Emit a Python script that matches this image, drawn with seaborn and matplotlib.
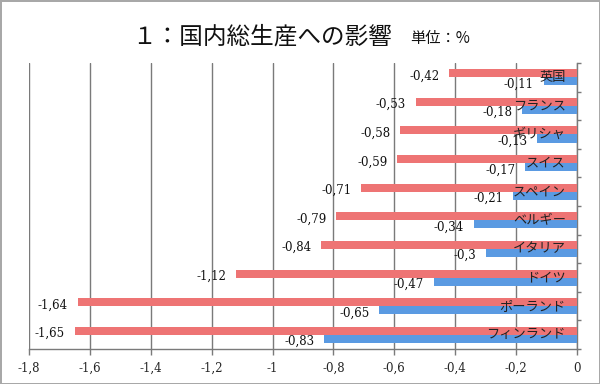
import matplotlib
matplotlib.use('Agg')
import matplotlib.pyplot as plt
import seaborn as sns
import pandas as pd

# data
countries = ['英国', 'フランス', 'ギリシャ', 'スイス', 'スペイン',
             'ベルギー', 'イタリア', 'ドイツ', 'ポーランド', 'フィンランド']
red_vals = [-0.42, -0.53, -0.58, -0.59, -0.71, -0.79, -0.84, -1.12, -1.64, -1.65]
blue_vals = [-0.11, -0.18, -0.13, -0.17, -0.21, -0.34, -0.3, -0.47, -0.65, -0.83]
xticks = [-1.8, -1.6, -1.4, -1.2, -1.0, -0.8, -0.6, -0.4, -0.2, 0.0]
xtick_labels = ['-1,8', '-1,6', '-1,4', '-1,2', '-1', '-0,8', '-0,6', '-0,4', '-0,2', '0']

sns.set_style('white')
plt.rcParams['font.family'] = ['Noto Sans CJK JP', 'DejaVu Sans']

df = pd.DataFrame({
    'country': countries * 2,
    'value': red_vals + blue_vals,
    'series': ['a'] * len(countries) + ['b'] * len(countries),
})

fig = plt.figure(figsize=(6.0, 3.84), dpi=100)
fig.patch.set_edgecolor('#a8a8a8')
fig.patch.set_linewidth(2)
ax = fig.add_axes([0.0483, 0.091, 0.9134, 0.745])

red = '#EE7474'
blue = '#5A9AE2'
sns.barplot(data=df, x='value', y='country', hue='series', orient='h',
            palette=[red, blue], saturation=1, width=0.56, dodge=True,
            legend=False, edgecolor='none', ax=ax, zorder=3)

ax.set_xlim(-1.8, 0)
ax.set_ylim(len(countries) - 0.5, -0.5)
ax.set_xticks(xticks)
ax.set_xticklabels(xtick_labels, family='DejaVu Serif', fontsize=8.5)
ax.set_xlabel('')
ax.set_ylabel('')
ax.grid(axis='x', color='#7a7a7a', lw=1.0)
ax.grid(axis='y', visible=False)
ax.set_axisbelow(True)

# y axis sits on the right at x=0, ticks between categories
ax.yaxis.tick_right()
ax.set_yticks([])
ax.set_yticks([i - 0.5 for i in range(len(countries) + 1)], minor=True)
ax.tick_params(axis='y', which='minor', right=True, direction='out',
               length=3, color='#7a7a7a', width=1)
ax.tick_params(axis='x', bottom=True, direction='out', length=4,
               color='#7a7a7a', width=1, pad=5)
for side in ['top', 'left']:
    ax.spines[side].set_visible(False)
for side in ['bottom', 'right']:
    ax.spines[side].set_color('#7a7a7a')
    ax.spines[side].set_linewidth(1)

# category names inside the plot, next to the right axis
for i, name in enumerate(countries):
    ax.annotate(name, xy=(1, i), xycoords=('axes fraction', 'data'),
                xytext=(-8, 0), textcoords='offset points',
                ha='right', va='center', fontsize=9.5, color='#222222', zorder=5)

# value labels left of bar ends
for cont, vals in zip(ax.containers, [red_vals, blue_vals]):
    for bar, v in zip(cont, vals):
        yc = bar.get_y() + bar.get_height() / 2
        ax.annotate(f'{v:g}'.replace('.', ','), xy=(v, yc),
                    xytext=(-7, -2), textcoords='offset points',
                    ha='right', va='center', fontsize=8.5,
                    family='DejaVu Serif', color='#111111', zorder=5)

fig.text(0.22, 0.887, '１：国内総生産への影響', fontsize=17,
         ha='left', va='baseline', color='#111111')
fig.text(0.683, 0.887, '単位：%', fontsize=11,
         ha='left', va='baseline', color='#111111')

fig.savefig('out.png', dpi=100)
